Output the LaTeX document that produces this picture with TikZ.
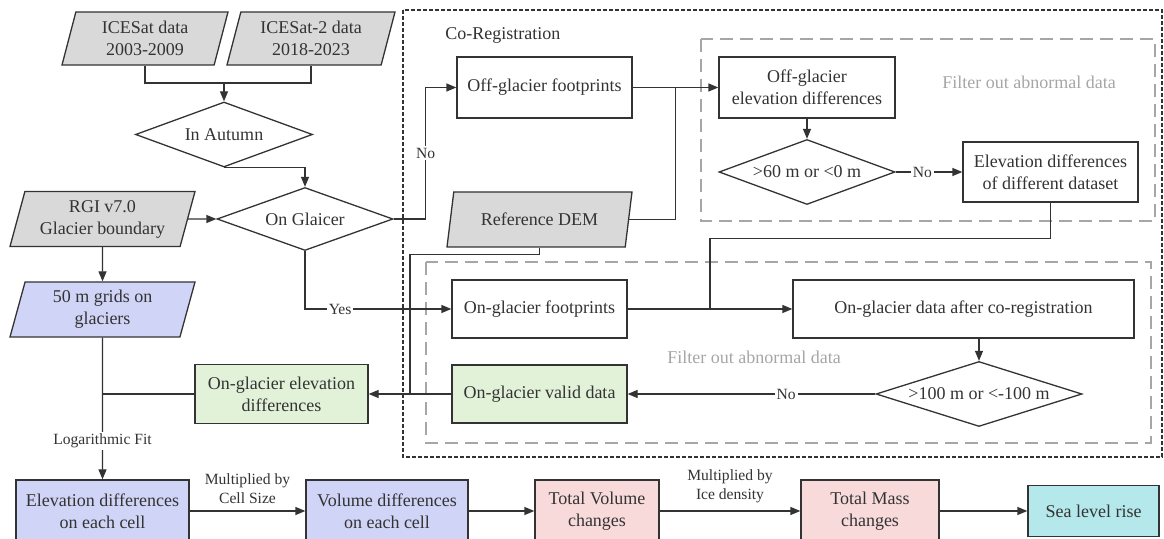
\documentclass[tikz,border=0pt]{standalone}
\usepackage{fontspec}
\setmainfont{Liberation Serif}
\usetikzlibrary{shapes.geometric,arrows.meta,calc}
\definecolor{inkgray}{HTML}{333333}
\definecolor{datagray}{HTML}{D9D9D9}
\definecolor{gridblue}{HTML}{D0D4F6}
\definecolor{validgreen}{HTML}{E2F2D9}
\definecolor{changepink}{HTML}{F9DADA}
\definecolor{seacyan}{HTML}{B4E8EB}
\definecolor{filtergray}{HTML}{A6A6A6}
\tikzset{boxsize/.style 2 args={minimum width=#1*0.5pt, minimum height=#2*0.5pt}}

\begin{document}
\begin{tikzpicture}[x=0.5pt, y=-0.5pt, color=inkgray, line width=0.65pt,
		font=\fontsize{9}{11}\selectfont,
		process/.style={rectangle, draw, align=center, inner sep=2pt},
		dataio/.style={trapezium, trapezium left angle=72, trapezium right angle=108,
			trapezium stretches body, draw, fill=datagray, align=center, inner sep=2pt},
		decision/.style={diamond, draw, align=center, inner sep=0pt, aspect=2.7},
		arrow/.style={-{Triangle[length=5pt,width=4pt]}},
		label text/.style={font=\fontsize{7.8}{9.5}\selectfont, fill=white, inner sep=1pt, align=center},
		filter box/.style={draw=filtergray, line width=1.2pt, dash pattern=on 6.5pt off 3.5pt},
		group box/.style={draw=inkgray, line width=0.6pt, dash pattern=on 2pt off 1pt},
		filter text/.style={text=filtergray}]
		
		\useasboundingbox (0,0) rectangle (1164,539);
		\clip (0,0) rectangle (1164,539);
		
		\draw[group box] (403,10) rectangle (1162,457);
		\draw[filter box] (701,39) rectangle (1155,221);
		\draw[filter box] (426,262) rectangle (1151,443);
		\node[anchor=west] (coreglabel) at (438,35) {Co-Registration};
		\node[filter text] (filterlabel1) at (1029,82) {Filter out abnormal data};
		\node[filter text] (filterlabel2) at (754,357) {Filter out abnormal data};
		
		\node[dataio, boxsize={166}{53}] (icesat) at (145,38.5) {ICESat data\\2003-2009};
		\node[dataio, boxsize={168}{53}] (icesat2) at (311,38.5) {ICESat-2 data\\2018-2023};
		\node[decision, boxsize={177}{65}] (autumn) at (224,134.5) {In Autumn};
		\node[decision, boxsize={176}{63}] (onglacier) at (305,219) {On Glaicer};
		\node[dataio, boxsize={185}{55}] (rgi) at (102.5,219) {RGI v7.0\\Glacier boundary};
		\node[dataio, boxsize={185}{55}, fill=gridblue] (grids) at (102.5,309.5) {50 m grids on\\glaciers};
		\node[dataio, boxsize={185}{55}] (refdem) at (539.5,219.5) {Reference DEM};
		
		\node[process, boxsize={175}{61}] (offfoot) at (544.5,87.5) {Off-glacier footprints};
		\node[process, boxsize={176}{61}] (offdiff) at (807,87.5) {Off-glacier\\elevation differences};
		\node[decision, boxsize={176}{65}] (diam60) at (807,172) {>60 m or <0 m};
		\node[process, boxsize={175}{60}] (elevdiff) at (1050.5,172) {Elevation differences\\of different dataset};
		\node[process, boxsize={175}{58}] (onfoot) at (539.5,309) {On-glacier footprints};
		\node[process, boxsize={341}{58}] (aftercoreg) at (963.5,309) {On-glacier data after co-registration};
		\node[decision, boxsize={206}{65}] (diam100) at (979,394) {>100 m or <-100 m};
		\node[process, boxsize={175}{58}, fill=validgreen] (valid) at (539.5,394) {On-glacier valid data};
		\node[process, boxsize={173}{59}, fill=validgreen] (ongdiff) at (281.5,394) {On-glacier elevation\\differences};
		
		\node[process, boxsize={173}{62}, fill=gridblue] (elevcell) at (102.5,511) {Elevation differences\\on each cell};
		\node[process, boxsize={162}{62}, fill=gridblue] (volcell) at (387,511) {Volume differences\\on each cell};
		\node[process, boxsize={124}{62}, fill=changepink] (totvol) at (597,511) {Total Volume\\changes};
		\node[process, boxsize={138}{62}, fill=changepink] (totmass) at (870,511) {Total Mass\\changes};
		\node[process, boxsize={131}{51}, fill=seacyan] (sealevel) at (1093.5,511) {Sea level rise};
		
		\coordinate (jtop) at (224,83);
		\coordinate (offjoin) at ($(offfoot.east)!0.5!(offdiff.west)$);
		\coordinate (onjoin) at ($(onfoot.east)!0.5!(aftercoreg.west)$);
		\coordinate (demjoin) at ($(ongdiff.east)!0.5!(valid.west)$);
		
		\draw (icesat |- icesat.south) |- (jtop) -| (icesat2 |- icesat2.south);
		\draw[arrow] (jtop) -- (autumn.north);
		\draw[arrow] (autumn.south) -| (onglacier.north);
		\draw[arrow] (rgi.east) -- (onglacier.west);
		\draw[arrow] (onglacier.east) -- ++(32,0) |- node[label text, pos=0.25] {No} (offfoot.west);
		\draw[arrow] (onglacier.south) |- node[label text, pos=0.62] {Yes} (onfoot.west);
		\draw (refdem.east) -| (offjoin);
		\draw (elevdiff.south) -- ++(0,36) -| (onjoin);
		\draw (refdem.center |- refdem.south) -- ++(0,7) -| (demjoin);
		\draw (ongdiff.west) -- (ongdiff.west -| grids.center);
		\draw[arrow] (diam100.north |- aftercoreg.south) -- (diam100.north);
		
		\path (rgi) edge[arrow] (grids)
		(offfoot) edge[arrow] (offdiff)
		(offdiff) edge[arrow] (diam60)
		(diam60) edge[arrow] node[label text, pos=0.4] {No} (elevdiff)
		(onfoot) edge[arrow] (aftercoreg)
		(diam100) edge[arrow] node[label text, pos=0.36] {No} (valid)
		(valid) edge[arrow] (ongdiff)
		(grids) edge[arrow] node[label text, pos=0.73] {Logarithmic Fit} (elevcell)
		(elevcell) edge[arrow] node[label text, above=2.5pt] {Multiplied by\\Cell Size} (volcell)
		(volcell) edge[arrow] (totvol)
		(totvol) edge[arrow] node[label text, above=2.5pt] {Multiplied by\\Ice density} (totmass)
		(totmass) edge[arrow] (sealevel);
	\end{tikzpicture}
\end{document}
